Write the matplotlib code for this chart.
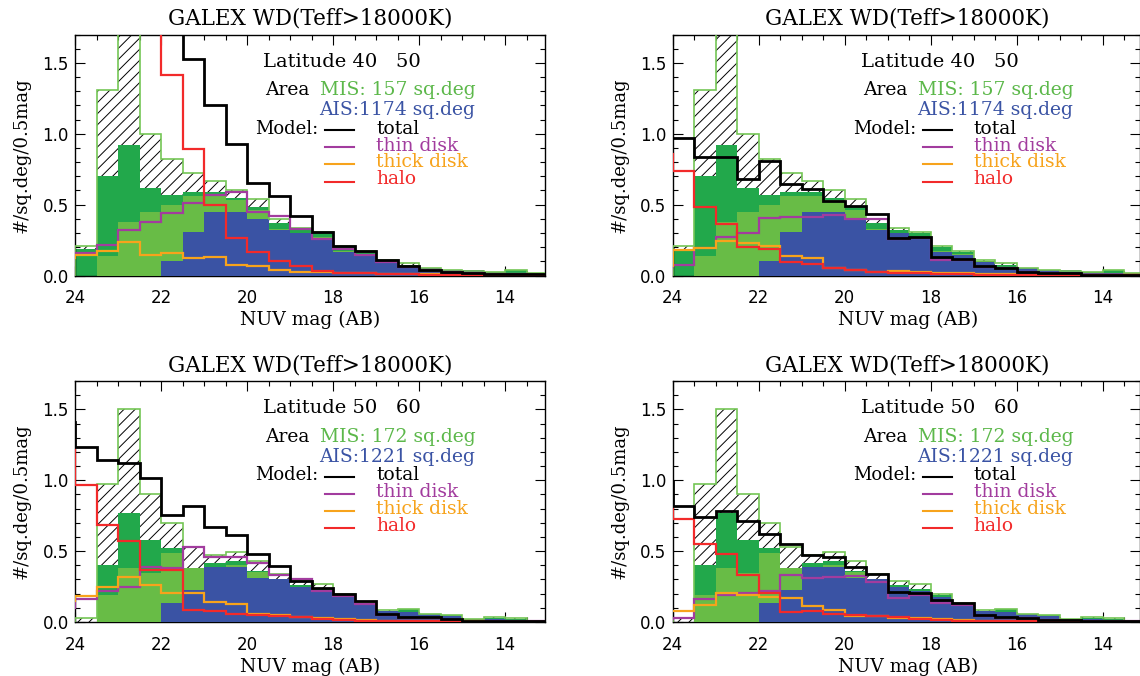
import numpy as np
import matplotlib
matplotlib.use("Agg")
import matplotlib.pyplot as plt
from matplotlib.ticker import MultipleLocator

# ---------------- data ----------------
# bin edges (NUV mag), faint -> bright; first bin 24.5-24.0 lies just outside the plot
mag_edges = [24.5, 24.0, 23.5, 23.0, 22.5, 22.0, 21.5, 21.0, 20.5, 20.0, 19.5, 19.0,
             18.5, 18.0, 17.5, 17.0, 16.5, 16.0, 15.5, 15.0, 14.5, 14.0, 13.5, 13.0]
xticks = [24, 22, 20, 18, 16, 14]
yticks = [0.0, 0.5, 1.0, 1.5]

title = "GALEX WD(Teff>18000K)"
lat_labels = ["Latitude 40   50", "Latitude 50   60"]
mis_labels = ["MIS: 157 sq.deg", "MIS: 172 sq.deg"]
ais_labels = ["AIS:1174 sq.deg", "AIS:1221 sq.deg"]
legend_names = ["total", "thin disk", "thick disk", "halo"]

# observations, bins 24.0-23.5 ... 13.5-13.0  (latitude 40-50)
mis_all_40 = [0.21, 1.31, 1.90, 0.995, 0.82, 0.725, 0.67, 0.60, 0.54, 0.40, 0.335, 0.31,
              0.21, 0.175, 0.11, 0.085, 0.056, 0.042, 0.033, 0.026, 0.042, 0.02]
mis_dk_40 = [0.19, 0.70, 0.92, 0.62, 0.565, 0.59, 0.59, 0.55, 0.48, 0.37, 0.32, 0.30,
             0.20, 0.165, 0.10, 0.075, 0.05, 0.04, 0.03, 0.022, 0.04, 0.015]
mis_lt_40 = [0.0, 0.14, 0.38, 0.45, 0.50, 0.56, 0.56, 0.53, 0.46, 0.33, 0.30, 0.27,
             0.17, 0.15, 0.10, 0.06, 0.056, 0.042, 0.036, 0.017, 0.02, 0.005]
ais_40 = [0.0, 0.0, 0.0, 0.0, 0.10, 0.307, 0.448, 0.448, 0.40, 0.32, 0.30, 0.26,
          0.166, 0.143, 0.096, 0.056, 0.056, 0.042, 0.036, 0.017, 0.017, 0.005]
# latitude 50-60
mis_all_50 = [0.03, 0.974, 1.50, 0.90, 0.70, 0.53, 0.474, 0.497, 0.427, 0.34, 0.286, 0.268,
              0.197, 0.134, 0.087, 0.091, 0.058, 0.051, 0.02, 0.034, 0.03, 0.01]
mis_dk_50 = [0.0, 0.40, 0.77, 0.58, 0.52, 0.38, 0.415, 0.43, 0.36, 0.29, 0.26, 0.23,
             0.19, 0.13, 0.075, 0.09, 0.055, 0.05, 0.02, 0.03, 0.02, 0.01]
mis_lt_50 = [0.0, 0.19, 0.38, 0.345, 0.49, 0.38, 0.39, 0.40, 0.355, 0.29, 0.25, 0.216,
             0.173, 0.122, 0.075, 0.07, 0.056, 0.04, 0.014, 0.02, 0.014, 0.007]
ais_50 = [0.0, 0.0, 0.0, 0.0, 0.134, 0.227, 0.385, 0.39, 0.31, 0.305, 0.245, 0.216,
          0.173, 0.122, 0.075, 0.07, 0.056, 0.04, 0.014, 0.02, 0.014, 0.007]

# models, bins 24.5-24.0 ... 13.5-13.0
tot_1 = [4.0, 3.6, 3.2, 2.8, 2.3, 2.0, 1.53, 1.20, 0.93, 0.65, 0.56, 0.418, 0.307, 0.206,
         0.173, 0.108, 0.065, 0.042, 0.026, 0.015, 0.01, 0.01, 0.01]
thin_1 = [0.14, 0.16, 0.213, 0.324, 0.378, 0.44, 0.51, 0.57, 0.59, 0.448, 0.42, 0.33, 0.254,
          0.19, 0.143, 0.096, 0.06, 0.036, 0.026, 0.015, 0.01, 0.008, 0.005]
thick_1 = [0.12, 0.143, 0.175, 0.237, 0.143, 0.16, 0.122, 0.128, 0.072, 0.065, 0.042, 0.026,
           0.026, 0.02, 0.015, 0.012, 0.01, 0.008, 0.006, 0.005, 0.004, 0.003, 0.002]
halo_1 = [3.7, 3.3, 2.9, 2.5, 1.95, 1.415, 0.894, 0.50, 0.268, 0.166, 0.103, 0.065, 0.032,
          0.02, 0.015, 0.01, 0.008, 0.005, 0.004, 0.003, 0.002, 0.002, 0.001]

tot_2 = [0.97, 0.97, 0.835, 0.835, 0.678, 0.807, 0.643, 0.613, 0.525, 0.488, 0.432, 0.268,
         0.27, 0.131, 0.113, 0.065, 0.056, 0.026, 0.015, 0.015, 0.005, 0.005, 0.005]
thin_2 = [0.06, 0.071, 0.195, 0.27, 0.30, 0.405, 0.415, 0.415, 0.43, 0.40, 0.40, 0.26, 0.262,
          0.11, 0.108, 0.06, 0.05, 0.025, 0.015, 0.01, 0.005, 0.004, 0.003]
thick_2 = [0.07, 0.178, 0.195, 0.244, 0.23, 0.21, 0.135, 0.125, 0.05, 0.042, 0.026, 0.033,
           0.026, 0.02, 0.015, 0.01, 0.008, 0.006, 0.005, 0.004, 0.003, 0.002, 0.002]
halo_2 = [0.855, 0.737, 0.483, 0.366, 0.201, 0.19, 0.097, 0.08, 0.05, 0.042, 0.026, 0.02,
          0.015, 0.01, 0.008, 0.006, 0.005, 0.004, 0.003, 0.002, 0.002, 0.001, 0.001]

tot_3 = [1.41, 1.237, 1.143, 1.12, 1.014, 0.756, 0.821, 0.673, 0.615, 0.48, 0.396, 0.29,
         0.24, 0.197, 0.145, 0.056, 0.032, 0.032, 0.02, 0.01, 0.01, 0.008, 0.005]
thin_3 = [0.10, 0.162, 0.22, 0.246, 0.387, 0.38, 0.532, 0.462, 0.462, 0.415, 0.333, 0.305,
          0.216, 0.18, 0.125, 0.05, 0.03, 0.025, 0.015, 0.008, 0.006, 0.005, 0.004]
thick_3 = [0.15, 0.185, 0.249, 0.314, 0.263, 0.204, 0.204, 0.138, 0.127, 0.056, 0.05, 0.035,
           0.025, 0.02, 0.015, 0.01, 0.008, 0.006, 0.005, 0.004, 0.003, 0.002, 0.002]
halo_3 = [1.28, 0.967, 0.685, 0.568, 0.368, 0.368, 0.087, 0.075, 0.056, 0.05, 0.04, 0.035,
          0.02, 0.015, 0.01, 0.008, 0.006, 0.005, 0.004, 0.003, 0.002, 0.002, 0.001]

tot_4 = [0.995, 0.82, 0.744, 0.786, 0.709, 0.62, 0.549, 0.474, 0.462, 0.385, 0.338, 0.211,
         0.205, 0.157, 0.134, 0.051, 0.035, 0.028, 0.016, 0.012, 0.008, 0.006, 0.005]
thin_4 = [0.02, 0.028, 0.162, 0.192, 0.204, 0.22, 0.333, 0.31, 0.315, 0.321, 0.282, 0.17,
          0.192, 0.134, 0.122, 0.045, 0.03, 0.025, 0.015, 0.01, 0.006, 0.005, 0.004]
thick_4 = [0.08, 0.08, 0.122, 0.204, 0.192, 0.173, 0.17, 0.11, 0.087, 0.045, 0.04, 0.03,
           0.025, 0.02, 0.015, 0.01, 0.008, 0.006, 0.005, 0.004, 0.003, 0.002, 0.002]
halo_4 = [0.814, 0.727, 0.549, 0.479, 0.333, 0.204, 0.07, 0.08, 0.059, 0.052, 0.045, 0.037,
          0.02, 0.015, 0.01, 0.008, 0.006, 0.005, 0.004, 0.003, 0.002, 0.002, 0.001]

obs_sets = [
    (mis_all_40, mis_dk_40, mis_lt_40, ais_40),
    (mis_all_50, mis_dk_50, mis_lt_50, ais_50),
]
model_sets = [
    (tot_1, thin_1, thick_1, halo_1),
    (tot_2, thin_2, thick_2, halo_2),
    (tot_3, thin_3, thick_3, halo_3),
    (tot_4, thin_4, thick_4, halo_4),
]

# ---------------- style ----------------
C_DK = "#22a84b"
C_LT = "#68bc46"
C_BLUE = "#3a53a4"
C_HOUT = "#74c655"
C_THIN = "#a23c9e"
C_THICK = "#f7a31c"
C_HALO = "#f22a2a"
C_TOT = "black"
C_MIS_TXT = "#5cb84a"

SERIF = "DejaVu Serif"
plt.rcParams["font.family"] = "DejaVu Sans"
plt.rcParams["hatch.linewidth"] = 0.7

W, H = 1140, 676
fig = plt.figure(figsize=(W / 100, H / 100), dpi=100)

# axes boxes in pixels: (left, top, right, bottom)
boxes = [(75, 34.5, 545, 275.5), (672.7, 34.5, 1139.5, 275.5),
         (75, 381, 545, 622), (672.7, 381, 1139.5, 622)]

edges_inc = np.array(mag_edges[::-1])


def rev(v):
    return np.asarray(v, dtype=float)[::-1]


for i, (l, t, r, b) in enumerate(boxes):
    ax = fig.add_axes([l / W, 1 - b / H, (r - l) / W, (b - t) / H])
    wpx, hpx = r - l, b - t
    row = i // 2
    h_all, h_dk, h_lt, h_ais = [[0.0] + list(a) for a in obs_sets[row]]

    ax.stairs(rev(h_all), edges_inc, fill=True, facecolor="white", edgecolor="black",
              hatch="///", linewidth=0, baseline=0, zorder=1)
    ax.stairs(rev(h_dk), edges_inc, fill=True, color=C_DK, linewidth=0, baseline=0, zorder=2)
    ax.stairs(rev(h_lt), edges_inc, fill=True, color=C_LT, linewidth=0, baseline=0, zorder=3)
    ax.stairs(rev(h_ais), edges_inc, fill=True, color=C_BLUE, linewidth=0, baseline=0, zorder=4)
    ax.stairs(rev(h_all), edges_inc, color=C_HOUT, linewidth=1.2, baseline=0, zorder=5)

    tot, thin, thick, halo = model_sets[i]
    ax.stairs(rev(thin), edges_inc, color=C_THIN, linewidth=1.6, baseline=None, zorder=6)
    ax.stairs(rev(thick), edges_inc, color=C_THICK, linewidth=1.6, baseline=None, zorder=6)
    ax.stairs(rev(halo), edges_inc, color=C_HALO, linewidth=1.6, baseline=None, zorder=7)
    ax.stairs(rev(tot), edges_inc, color=C_TOT, linewidth=2.0, baseline=None, zorder=8)

    ax.set_xlim(24.0, 24.0 - wpx / 43.0)
    ax.set_ylim(0, 1.7)
    ax.set_xticks(xticks)
    ax.set_xticklabels([str(v) for v in xticks])
    ax.set_yticks(yticks)
    ax.set_yticklabels(["%.1f" % v for v in yticks])
    ax.xaxis.set_minor_locator(MultipleLocator(0.5))
    ax.yaxis.set_minor_locator(MultipleLocator(0.1))
    ax.tick_params(which="both", direction="in", top=True, right=True, width=0.8,
                   labelsize=12)
    ax.tick_params(which="major", length=7)
    ax.tick_params(which="minor", length=3.5)
    ax.tick_params(axis="x", pad=10)
    ax.tick_params(axis="y", pad=4.5)
    for s in ax.spines.values():
        s.set_linewidth(1.0)

    def P(dx, dy):
        return dx / wpx, 1 - dy / hpx

    ax.text(*P(235, -9.5), title, transform=ax.transAxes, ha="center", va="baseline",
            fontsize=15.5, family=SERIF)
    ax.text(*P(235, hpx + 49.5), "NUV mag (AB)", transform=ax.transAxes, ha="center",
            va="baseline", fontsize=13.5, family=SERIF)
    ax.text(*P(-53, hpx / 2), "#/sq.deg/0.5mag", transform=ax.transAxes, ha="center",
            va="center", rotation=90, fontsize=13, family=SERIF)

    fs = 13.5
    ax.text(*P(188, 32.2), lat_labels[row], transform=ax.transAxes, ha="left",
            va="baseline", fontsize=14, family=SERIF)
    ax.text(*P(190, 60.5), "Area", transform=ax.transAxes, ha="left", va="baseline",
            fontsize=fs, family=SERIF)
    ax.text(*P(245, 60.5), mis_labels[row], transform=ax.transAxes, ha="left",
            va="baseline", fontsize=fs, family=SERIF, color=C_MIS_TXT)
    ax.text(*P(244.3, 80.5), ais_labels[row], transform=ax.transAxes, ha="left",
            va="baseline", fontsize=fs, family=SERIF, color=C_BLUE)
    ax.text(*P(180, 99.5), "Model:", transform=ax.transAxes, ha="left",
            va="baseline", fontsize=13, family=SERIF)
    leg_cols = [C_TOT, C_THIN, C_THICK, C_HALO]
    leg_line_dy = [95.5, 112.8, 129.8, 147.2]
    leg_text_dy = [99.5, 116.2, 132.8, 149.8]
    for name, col, ly, ty in zip(legend_names, leg_cols, leg_line_dy, leg_text_dy):
        x0, y0 = P(250, ly)
        x1, _ = P(279, ly)
        ax.plot([x0, x1], [y0, y0], color=col, lw=1.5, transform=ax.transAxes,
                clip_on=False, zorder=9)
        ax.text(*P(301, ty), name, transform=ax.transAxes, ha="left", va="baseline",
                fontsize=fs, family=SERIF, color=col)

fig.savefig("out.png", dpi=100)
